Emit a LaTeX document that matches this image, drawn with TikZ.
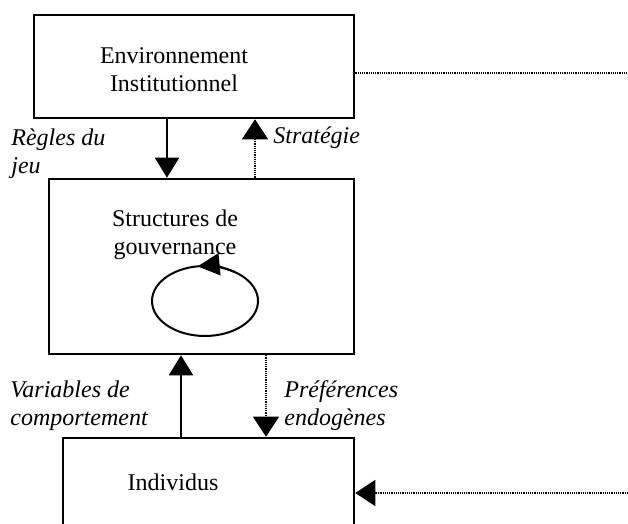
\documentclass[tikz,border=0pt]{standalone}
\usepackage{fontspec}
\setmainfont{Liberation Serif}
\usetikzlibrary{arrows.meta,calc,shapes.geometric}
\begin{document}
\begin{tikzpicture}[x=0.5pt,y=0.5pt,
  box/.style={draw,line width=1.3pt,inner sep=0pt,rectangle},
  txt/.style={font=\fontsize{12}{14}\selectfont,align=center,inner sep=0pt},
  lab/.style={font=\fontsize{12}{14}\selectfont\itshape,align=left,inner sep=0pt,anchor=west},
  solidarr/.style={line width=1pt,-{Triangle[width=12pt,length=10pt]}},
  dotarr/.style={line width=0.7pt,dash pattern=on 0.6pt off 0.5pt,-{Triangle[width=13pt,length=10pt]}},
  dotline/.style={line width=0.7pt,dash pattern=on 0.6pt off 0.5pt}]
\clip (0,0) rectangle (628,524);
% boxes
\node[box,minimum width=160pt,minimum height=51.5pt] (env) at (194,457.5) {};
\node[box,minimum width=152.5pt,minimum height=87.5pt] (gov) at (201.5,257.5) {};
\node[box,minimum width=145.5pt,minimum height=51pt] (ind) at (208.5,35) {};
% texts
\node[txt] (tenv) at (174,454) {Environnement\\Institutionnel};
\node[txt] (tgov) at (175,289) {Structures de\\gouvernance};
\node[txt] (tind) at (173,42) {Individus};
% cycle
\node[draw,ellipse,line width=1pt,minimum width=53pt,minimum height=35pt,inner sep=0pt] (cyc) at (205,223) {};
\draw[line width=1pt,-{Triangle[width=11pt,length=11pt]}] ($(cyc.center)+(55:26.5pt and 17.5pt)$) arc[start angle=55,end angle=98,x radius=26.5pt,y radius=17.5pt];
% x positions
\coordinate (xr) at (167,0);
\coordinate (xs) at (255,0);
\coordinate (xv) at (181,0);
\coordinate (xp) at (266,0);
\draw[solidarr] (xr |- env.south) -- (xr |- gov.north);
\draw[dotarr] (xs |- gov.north) -- (xs |- env.south);
\draw[solidarr] (xv |- ind.north) -- (xv |- gov.south);
\draw[dotarr] (xp |- gov.south) -- (xp |- ind.north);
% long dotted lines
\coordinate (e1) at (628,451);
\coordinate (e2) at (628,31);
\draw[dotline] (env.east |- e1) -- (e1);
\draw[dotarr] (e2) -- (ind.east |- e2);
% labels
\node[lab] (lr) at (11,370.5) {Règles du\\jeu};
\node[lab] (ls) at (273,386) {Stratégie};
\node[lab] (lv) at (10,118.5) {Variables de\\comportement};
\node[lab] (lp) at (284,118.5) {Préférences\\endogènes};
\end{tikzpicture}
\end{document}
